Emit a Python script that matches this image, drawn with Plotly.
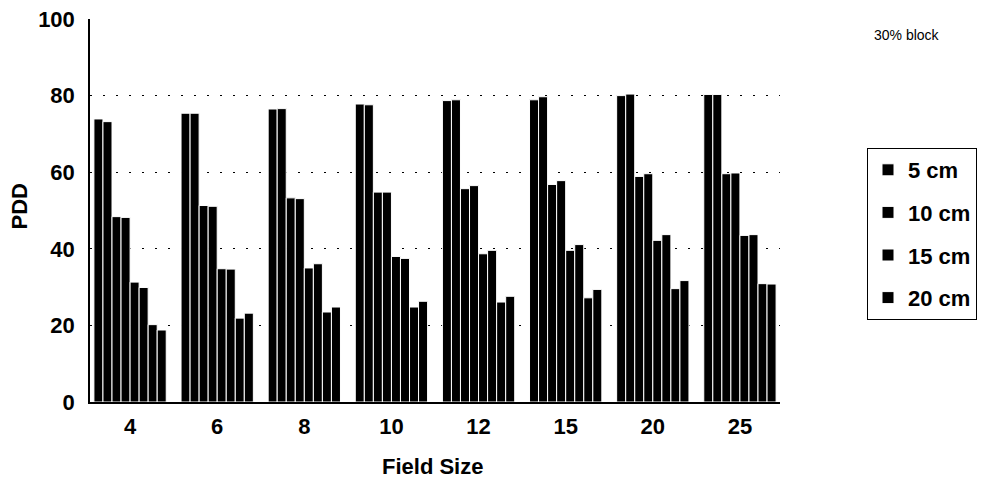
import plotly.graph_objects as go

field_sizes = ["4", "6", "8", "10", "12", "15", "20", "25"]
depths = ["5 cm", "10 cm", "15 cm", "20 cm"]

# two bars per depth (paired values) for each field size
pdd_5cm_a = [73.9, 75.4, 76.5, 77.8, 78.7, 78.9, 80.0, 80.3]
pdd_5cm_b = [73.2, 75.4, 76.6, 77.6, 78.9, 79.7, 80.4, 80.3]
pdd_10cm_a = [48.4, 51.3, 53.3, 54.8, 55.7, 56.8, 58.9, 59.6]
pdd_10cm_b = [48.2, 51.1, 53.1, 54.8, 56.5, 57.8, 59.6, 59.8]
pdd_15cm_a = [31.3, 34.8, 35.0, 38.0, 38.7, 39.6, 42.2, 43.5]
pdd_15cm_b = [29.9, 34.7, 36.1, 37.5, 39.6, 41.1, 43.7, 43.7]
pdd_20cm_a = [20.2, 21.9, 23.5, 24.8, 26.1, 27.2, 29.6, 30.9]
pdd_20cm_b = [18.8, 23.2, 24.8, 26.3, 27.6, 29.4, 31.7, 30.8]

series = [
    (depths[0], pdd_5cm_a, pdd_5cm_b),
    (depths[1], pdd_10cm_a, pdd_10cm_b),
    (depths[2], pdd_15cm_a, pdd_15cm_b),
    (depths[3], pdd_20cm_a, pdd_20cm_b),
]

FONT = "Liberation Sans, Arial, sans-serif"
BOLD = dict(family=FONT, size=22, color="black", weight="bold")

fig = go.Figure()
for name, a, b in series:
    for i, vals in enumerate((a, b)):
        fig.add_trace(go.Bar(
            x=field_sizes, y=vals, name=name, legendgroup=name,
            showlegend=(i == 0),
            marker=dict(color="black", line=dict(color="white", width=1)),
        ))

# page body has an 8px default margin, so the figure is shifted by 8px
PW, PH, PL, PT = 690, 383, 90, 19  # plot area in page pixels


def px(x):
    return (x - PL) / PW


def py(y):
    return (PT + PH - y) / PH


fig.update_layout(
    width=990, height=475,
    margin=dict(l=82, r=218, t=11, b=81),
    paper_bgcolor="white", plot_bgcolor="white",
    barmode="group", bargap=0.17, bargroupgap=0,
    font=BOLD,
    showlegend=True,
    legend=dict(
        x=px(867), y=py(148), xanchor="left", yanchor="top",
        bordercolor="black", borderwidth=1,
        font=BOLD, traceorder="grouped", tracegroupgap=11,
        itemwidth=30,
    ),
    annotations=[
        dict(text="30% block", x=px(872), y=py(35),
             xref="paper", yref="paper", xanchor="left", yanchor="middle",
             showarrow=False, font=dict(family=FONT, size=14, weight="normal")),
        dict(text="Field Size", x=px(432), y=py(466),
             xref="paper", yref="paper", xanchor="center", yanchor="middle",
             showarrow=False, font=BOLD),
        dict(text="PDD", x=px(18.5), y=py(207), textangle=-90,
             xref="paper", yref="paper", xanchor="center", yanchor="middle",
             showarrow=False, font=BOLD),
    ],
)

fig.update_xaxes(
    type="category", range=[-0.46, 7.46], automargin=False,
    showline=True, linecolor="black", linewidth=1.5,
    ticks="", showgrid=False, ticklabelstandoff=4,
    tickfont=BOLD,
)
fig.update_yaxes(
    range=[0, 100], tickvals=[0, 20, 40, 60, 80, 100], automargin=False,
    showline=True, linecolor="black", linewidth=1.5,
    ticks="", showgrid=True, gridcolor="black", gridwidth=1,
    griddash="2px,11px", zeroline=False, ticklabelstandoff=9,
    ticklabeloverflow="allow",
    tickfont=BOLD,
)

fig.write_html("out.html")
